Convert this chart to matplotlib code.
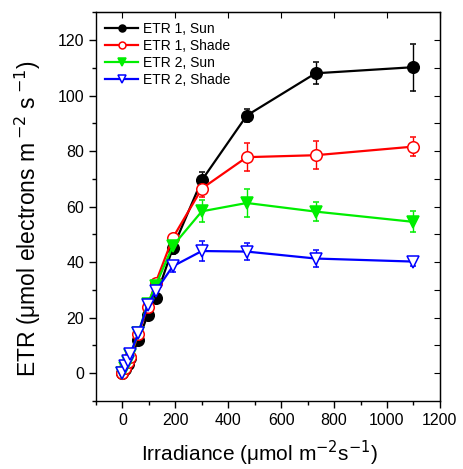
import numpy as np
import matplotlib.pyplot as plt
from matplotlib.ticker import MultipleLocator

plt.rcParams['font.family'] = ['Liberation Sans', 'DejaVu Sans']

# Irradiance steps of the light curve
irradiance = [0, 10, 20, 30, 60, 95, 125, 190, 300, 470, 730, 1100]

# ETR values and standard errors per group
etr1_sun = [0, 1.5, 3.5, 5.5, 11.8, 21, 27, 45, 69.5, 92.8, 108, 110.2]
etr1_sun_err = [0.4, 0.5, 0.5, 0.8, 1, 1.5, 1.5, 2, 3, 2.3, 4, 8.5]
etr1_shade = [0, 2, 4, 6, 14, 24, 32.5, 48.7, 66.5, 77.8, 78.5, 81.6]
etr1_shade_err = [0.4, 0.5, 0.5, 0.8, 1, 1.5, 1.5, 1.5, 3, 5, 5, 3.3]
etr2_sun = [0, 2, 4, 6.5, 14.5, 25, 31.5, 45.8, 58.3, 61.3, 58.2, 54.5]
etr2_sun_err = [0.4, 0.5, 0.5, 0.8, 1, 1.5, 1.5, 2, 4, 5, 3.5, 3.8]
etr2_shade = [0, 2.5, 4.5, 7, 14.5, 24.5, 29.5, 38.5, 44, 43.8, 41.3, 40.2]
etr2_shade_err = [0.4, 0.5, 0.5, 0.8, 1, 1.5, 1.5, 2, 3.5, 3, 3.2, 1.7]

series = [
    (etr1_sun, etr1_sun_err, "ETR 1, Sun", "black", "o", "black"),
    (etr1_shade, etr1_shade_err, "ETR 1, Shade", "red", "o", "white"),
    (etr2_sun, etr2_sun_err, "ETR 2, Sun", "#00ee00", "v", "#00ee00"),
    (etr2_shade, etr2_shade_err, "ETR 2, Shade", "blue", "v", "white"),
]

fig = plt.figure(figsize=(4.64, 4.69), dpi=100)
ax = fig.add_axes([0.207, 0.145, 0.741, 0.829])

for y, err, label, color, marker, face in series:
    ax.errorbar(irradiance, y, yerr=err, color=color, marker=marker,
                markersize=8.3 if marker == "o" else 9.3,
                markerfacecolor=face, markeredgecolor=color, markeredgewidth=1.1,
                linewidth=1.6, elinewidth=1, capsize=2.5, capthick=1,
                label=label)

ax.set_xlim(-100, 1200)
ax.set_ylim(-10, 130)
ax.xaxis.set_major_locator(MultipleLocator(200))
ax.xaxis.set_minor_locator(MultipleLocator(100))
ax.yaxis.set_major_locator(MultipleLocator(20))
ax.yaxis.set_minor_locator(MultipleLocator(10))

ax.tick_params(axis='both', which='major', direction='out', length=5,
               width=1, labelsize=11.5, top=False, right=False)
ax.tick_params(axis='both', which='minor', direction='out', length=3, width=1)

# inward ticks mirrored on the top and right edges
sec_x = ax.secondary_xaxis('top')
sec_x.set_xticks(np.arange(0, 1201, 200))
sec_x.tick_params(direction='in', length=4, labeltop=False)
sec_y = ax.secondary_yaxis('right')
sec_y.set_yticks(np.arange(0, 121, 10))
sec_y.tick_params(direction='in', length=4, labelright=False)

for sp in ax.spines.values():
    sp.set_linewidth(1)

ax.set_xlabel("Irradiance (μmol m$^{-2}$s$^{-1}$)", fontsize=15)
ax.set_ylabel("ETR (μmol electrons m$\\,^{-2}$ s$\\,^{-1}$)", fontsize=16.5)
ax.xaxis.set_label_coords(0.475, -0.098)
ax.yaxis.set_label_coords(-0.155, 0.47)

handles, labels = ax.get_legend_handles_labels()
handles = [h[0] for h in handles]
ax.legend(handles, labels, loc='upper left', frameon=False, fontsize=10,
          markerscale=0.6, handlelength=2.4, handletextpad=0.3,
          labelspacing=0.22, borderaxespad=0, bbox_to_anchor=(0.01, 0.99))

plt.savefig("out.png", dpi=100)
plt.close()
